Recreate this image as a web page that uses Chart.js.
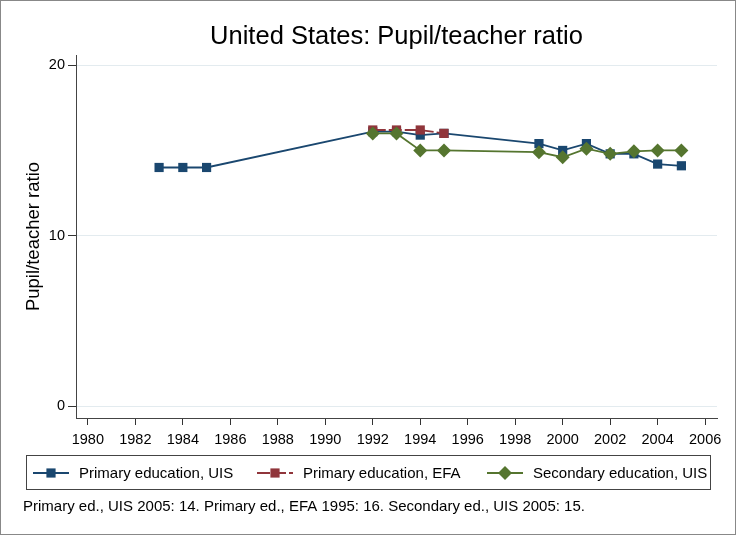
<!DOCTYPE html>
<html>
<head>
<meta charset="utf-8">
<script src="https://cdn.jsdelivr.net/npm/chart.js@4.4.0/dist/chart.umd.min.js"></script>
<style>
  html, body { margin: 0; padding: 0; background: #fff; }
  #wrap { width: 736px; height: 535px; position: relative; }
</style>
</head>
<body>
<div id="wrap"><canvas id="grafico"></canvas></div>
<script>
// datos
const aniosPrimUIS = [1983, 1984, 1985, 1992, 1993, 1994, 1995, 1999, 2000, 2001, 2002, 2003, 2004, 2005]
const valoresPrimUIS = [14.0, 14.0, 14.0, 16.1, 16.1, 15.9, 16.0, 15.4, 15.0, 15.4, 14.8, 14.8, 14.2, 14.1]

const aniosPrimEFA = [1992, 1993, 1994, 1995]
const valoresPrimEFA = [16.2, 16.2, 16.2, 16.0]

const aniosSecUIS = [1992, 1993, 1994, 1995, 1999, 2000, 2001, 2002, 2003, 2004, 2005]
const valoresSecUIS = [16.0, 16.0, 15.0, 15.0, 14.9, 14.6, 15.1, 14.8, 14.95, 15.0, 15.0]

const etiquetas = ['Primary education, UIS', 'Primary education, EFA', 'Secondary education, UIS']
const ticksX = [1980, 1982, 1984, 1986, 1988, 1990, 1992, 1994, 1996, 1998, 2000, 2002, 2004, 2006]
const ticksY = [0, 10, 20]

const titulo = 'United States: Pupil/teacher ratio'
const tituloY = 'Pupil/teacher ratio'
const nota = 'Primary ed., UIS 2005: 14. Primary ed., EFA 1995: 16. Secondary ed., UIS 2005: 15.'

const colorAzul = '#1a476f'
const colorRojo = '#90353b'
const colorVerde = '#55752f'
const fuente = "'Liberation Sans', Arial, sans-serif"

function puntos(xs, ys) {
    return xs.map((x, i) => ({ x: x, y: ys[i] }))
}

/* dibuja titulo, titulo del eje, leyenda y nota */
const textos = {
    id: 'textos',
    beforeDraw(chart) {
        const c = chart.ctx
        c.save()
        c.fillStyle = '#fff'
        c.fillRect(0, 0, chart.width, chart.height)
        c.restore()
    },
    afterDraw(chart) {
        const c = chart.ctx
        const area = chart.chartArea
        c.save()
        c.fillStyle = '#000'

        c.font = '25.5px ' + fuente
        c.textAlign = 'center'
        c.textBaseline = 'alphabetic'
        c.fillText(titulo, (area.left + area.right) / 2, 44)

        c.textBaseline = 'middle'
        c.save()
        c.translate(34, (area.top + area.bottom) / 2)
        c.rotate(-Math.PI / 2)
        c.font = '18.5px ' + fuente
        c.fillText(tituloY, 0, 0)
        c.restore()

        // caja de la leyenda
        c.strokeStyle = '#444'
        c.lineWidth = 1
        c.strokeRect(26.5, 455.5, 684, 34)

        const items = [
            { x: 33, color: colorAzul, forma: 'rect', dash: [] },
            { x: 257, color: colorRojo, forma: 'rect', dash: [13, 3] },
            { x: 487, color: colorVerde, forma: 'rectRot', dash: [] }
        ]
        c.font = '15px ' + fuente
        c.textAlign = 'left'
        items.forEach((it, i) => {
            const yy = 473
            c.strokeStyle = it.color
            c.lineWidth = 1.8
            c.setLineDash(it.dash)
            c.beginPath()
            c.moveTo(it.x, yy)
            c.lineTo(it.x + 36, yy)
            c.stroke()
            c.setLineDash([])
            c.fillStyle = it.color
            Chart.helpers.drawPoint(c, {
                pointStyle: it.forma,
                radius: it.forma === 'rect' ? 6.5 : 7,
                rotation: 0,
                borderWidth: 0
            }, it.x + 18, yy)
            c.fillStyle = '#000'
            c.fillText(etiquetas[i], it.x + 46, yy + 1)
        })

        c.font = '15px ' + fuente
        c.fillText(nota, 23, 507)

        // marco exterior
        c.strokeStyle = '#888'
        c.lineWidth = 1
        c.strokeRect(0.5, 0.5, chart.width - 1, chart.height - 1)
        c.restore()
    }
}

function grafico() {
    const ctx = document.getElementById('grafico')

    new Chart(ctx, {
        type: 'line',
        data: {
            datasets: [{
                label: etiquetas[0],
                data: puntos(aniosPrimUIS, valoresPrimUIS),
                borderColor: colorAzul,
                backgroundColor: colorAzul,
                borderWidth: 1.8,
                pointStyle: 'rect',
                pointRadius: 6.5,
                pointBorderWidth: 0,
                order: 3
            },
            {
                label: etiquetas[1],
                data: puntos(aniosPrimEFA, valoresPrimEFA),
                borderColor: colorRojo,
                backgroundColor: colorRojo,
                borderWidth: 1.8,
                borderDash: [13, 3],
                pointStyle: 'rect',
                pointRadius: 6.5,
                pointBorderWidth: 0,
                order: 2
            },
            {
                label: etiquetas[2],
                data: puntos(aniosSecUIS, valoresSecUIS),
                borderColor: colorVerde,
                backgroundColor: colorVerde,
                borderWidth: 1.8,
                pointStyle: 'rectRot',
                pointRadius: 7,
                pointBorderWidth: 0,
                order: 1
            }]
        },
        options: {
            responsive: false,
            animation: false,
            layout: { padding: { top: 55, right: 19, left: 0, bottom: 0 } },
            plugins: {
                legend: { display: false },
                title: { display: false },
                tooltip: { enabled: false }
            },
            scales: {
                x: {
                    type: 'linear',
                    min: 1979.5,
                    max: 2006.5,
                    afterBuildTicks: s => { s.ticks = ticksX.map(v => ({ value: v })) },
                    afterFit: s => { s.height = 117 },
                    grid: { drawOnChartArea: false, tickColor: '#333', tickLength: 7 },
                    border: { color: '#444', width: 1 },
                    ticks: { color: '#000', padding: 6, maxRotation: 0, autoSkip: false,
                        font: { family: fuente, size: 14.5 }, callback: v => String(v) }
                },
                y: {
                    min: -0.7,
                    max: 20.6,
                    afterBuildTicks: s => { s.ticks = ticksY.map(v => ({ value: v })) },
                    afterFit: s => { s.width = 76 },
                    grid: { color: '#e3ebef', tickColor: '#333', tickLength: 8 },
                    border: { color: '#444', width: 1 },
                    ticks: { color: '#000', padding: 3, font: { family: fuente, size: 14.5 } }
                }
            }
        },
        plugins: [textos]
    })
}

const cv = document.getElementById('grafico')
cv.width = 736
cv.height = 535
grafico()
</script>
</body>
</html>
